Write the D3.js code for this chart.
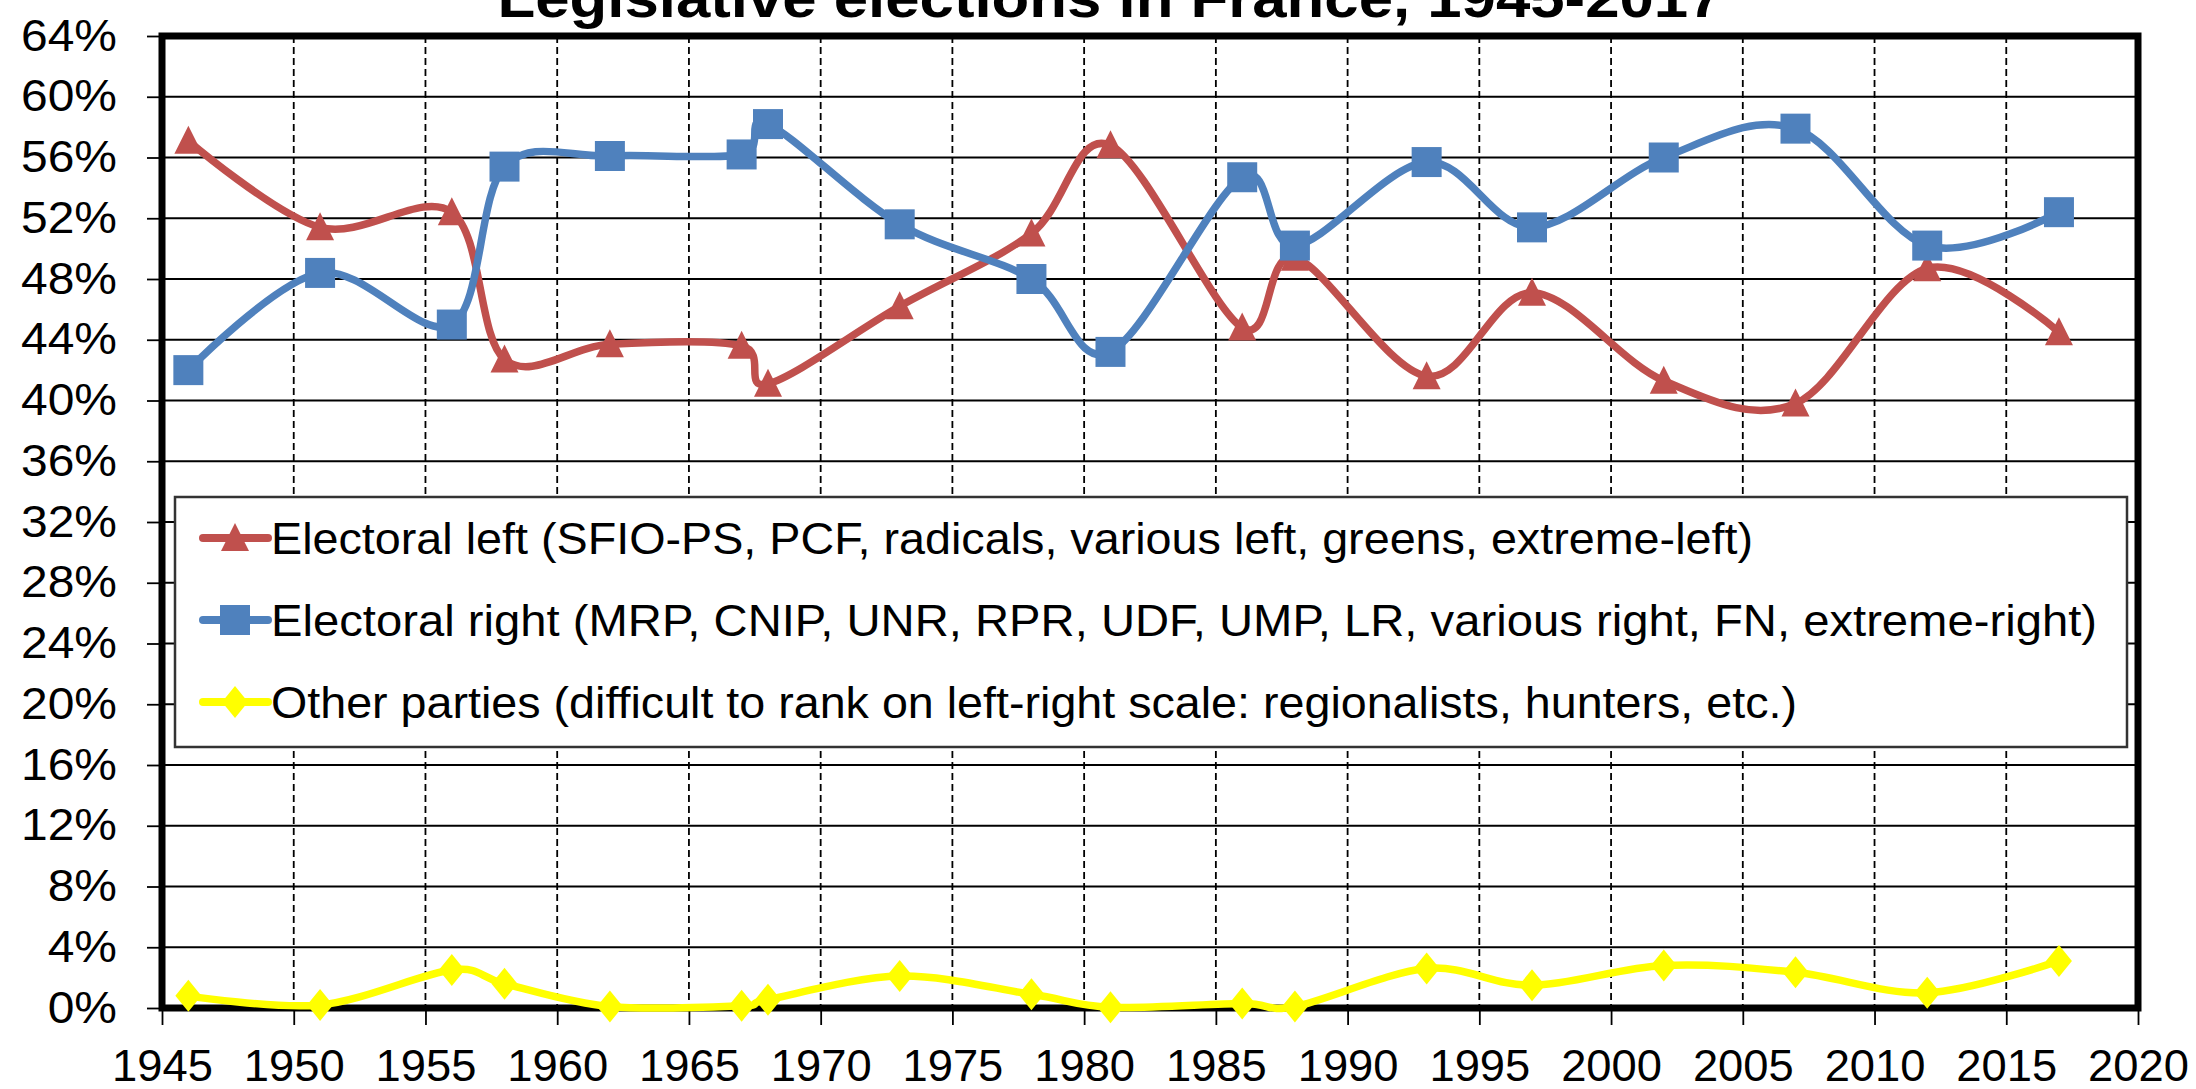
<!DOCTYPE html>
<html>
<head>
<meta charset="utf-8">
<script src="https://cdn.jsdelivr.net/npm/d3@7"></script>
<style>
  html, body { margin: 0; padding: 0; background: #fff; }
  svg { display: block; }
  text { font-family: "Liberation Sans", Arial, sans-serif; fill: #000; }
</style>
</head>
<body>
<svg id="chart" width="2196" height="1089"></svg>
<script>
// ---- Data ----
const years = [1946, 1951, 1956, 1958, 1962, 1967, 1968, 1973, 1978, 1981, 1986, 1988, 1993, 1997, 2002, 2007, 2012, 2017];
const leftVals  = [57.1, 51.4, 52.4, 42.7, 43.7, 43.6, 41.1, 46.2, 51.0, 56.8, 44.8, 49.4, 41.6, 47.1, 41.3, 39.8, 48.7, 44.5];
const rightVals = [42.0, 48.4, 45.0, 55.4, 56.1, 56.2, 58.2, 51.6, 48.0, 43.2, 54.7, 50.2, 55.7, 51.4, 56.0, 57.9, 50.2, 52.4];
const otherVals = [0.8, 0.2, 2.5, 1.6, 0.1, 0.15, 0.55, 2.1, 0.9, 0.05, 0.3, 0.1, 2.6, 1.5, 2.8, 2.35, 1.0, 3.1];
const seriesNames = [
  "Electoral left (SFIO-PS, PCF, radicals, various left, greens, extreme-left)",
  "Electoral right (MRP, CNIP, UNR, RPR, UDF, UMP, LR, various right, FN, extreme-right)",
  "Other parties (difficult to rank on left-right scale: regionalists, hunters, etc.)"
];
const xTicks = [1945, 1950, 1955, 1960, 1965, 1970, 1975, 1980, 1985, 1990, 1995, 2000, 2005, 2010, 2015, 2020];
const yTicks = [0, 4, 8, 12, 16, 20, 24, 28, 32, 36, 40, 44, 48, 52, 56, 60, 64];
const titleText = "Legislative elections in France, 1945-2017";

// ---- Layout ----
const svg = d3.select("#chart");
const x = d3.scaleLinear().domain([1945, 2020]).range([162, 2138]);
const y = d3.scaleLinear().domain([0, 64]).range([1008, 36]);

const colors = ["#C0504D", "#4F81BD", "#FFFF00"];

function stretch(sel, factor) {
  sel.each(function () {
    const w = this.getComputedTextLength();
    d3.select(this).attr("textLength", w * factor).attr("lengthAdjust", "spacingAndGlyphs");
  });
}

// Title
const title = svg.append("text")
  .attr("x", 1110).attr("y", 17)
  .attr("text-anchor", "middle")
  .style("font-weight", "bold")
  .style("font-size", "56px")
  .text(titleText);
title.attr("textLength", 1225).attr("lengthAdjust", "spacingAndGlyphs");

// Gridlines
const grid = svg.append("g");
grid.selectAll("line.h").data(yTicks).join("line")
  .attr("class", "h")
  .attr("x1", x(1945)).attr("x2", x(2020))
  .attr("y1", d => y(d)).attr("y2", d => y(d))
  .attr("stroke", "#000").attr("stroke-width", 1.8);
grid.selectAll("line.v").data(xTicks).join("line")
  .attr("class", "v")
  .attr("x1", d => x(d)).attr("x2", d => x(d))
  .attr("y1", y(64)).attr("y2", y(0))
  .attr("stroke", "#000").attr("stroke-width", 1.8)
  .attr("stroke-dasharray", "7,4");

// Axes
const yAxis = d3.axisLeft(y).tickValues(yTicks).tickFormat(d => d + "%").tickSize(15).tickPadding(30);
const gy = svg.append("g").attr("transform", `translate(${x(1945)},0)`).call(yAxis);
const xAxis = d3.axisBottom(x).tickValues(xTicks).tickFormat(d3.format("d")).tickSize(17).tickPadding(25);
const gx = svg.append("g").attr("transform", `translate(0,${y(0)})`).call(xAxis);
[gy, gx].forEach(g => {
  g.select(".domain").remove();
  g.selectAll(".tick line").attr("stroke", "#000").attr("stroke-width", 1.8);
  g.selectAll(".tick text").style("font-size", "44px").style("font-family", "'Liberation Sans', Arial, sans-serif");
});
stretch(gy.selectAll(".tick text"), 1.09);
stretch(gx.selectAll(".tick text"), 1.03);

// Plot border
svg.append("rect")
  .attr("x", x(1945)).attr("y", y(64))
  .attr("width", x(2020) - x(1945)).attr("height", y(0) - y(64))
  .attr("fill", "none").attr("stroke", "#000").attr("stroke-width", 7);

// Legend
const legX = 175, legY = 497, legW = 1952, legH = 250;
const leg = svg.append("g");
leg.append("rect").attr("x", legX).attr("y", legY).attr("width", legW).attr("height", legH)
  .attr("fill", "#fff").attr("stroke", "#333").attr("stroke-width", 2.5);

function markerPath(i) {
  if (i === 2) return "M0,-16L13,0L0,16L-13,0Z";
  if (i === 0) return "M0,-15L14,13L-14,13Z";
  return "M-15,-15H15V15H-15Z";
}

const legRows = [538, 620, 702];
const legLengths = [1482, 1826, 1526];
seriesNames.forEach((name, i) => {
  const gy0 = legRows[i];
  leg.append("line").attr("x1", 203).attr("x2", 268).attr("y1", gy0).attr("y2", gy0)
    .attr("stroke", colors[i]).attr("stroke-width", 8).attr("stroke-linecap", "round");
  leg.append("path").attr("d", markerPath(i)).attr("transform", `translate(235,${gy0})`)
    .attr("fill", colors[i]);
  leg.append("text").attr("x", 271).attr("y", gy0).attr("dy", "0.35em")
    .style("font-size", "45px")
    .attr("textLength", legLengths[i]).attr("lengthAdjust", "spacingAndGlyphs")
    .text(name);
});

// Series
const allVals = [leftVals, rightVals, otherVals];
const line = d3.line().x(d => x(d[0])).y(d => y(d[1])).curve(d3.curveCatmullRom.alpha(0));
allVals.forEach((vals, i) => {
  const pts = years.map((yr, k) => [yr, vals[k]]);
  const g = svg.append("g");
  g.append("path").attr("d", line(pts))
    .attr("fill", "none").attr("stroke", colors[i]).attr("stroke-width", 7.5)
    .attr("stroke-linejoin", "round").attr("stroke-linecap", "round");
  g.selectAll("path.m").data(pts).join("path")
    .attr("class", "m")
    .attr("d", markerPath(i))
    .attr("transform", d => `translate(${x(d[0])},${y(d[1])})`)
    .attr("fill", colors[i]);
});
</script>
</body>
</html>
